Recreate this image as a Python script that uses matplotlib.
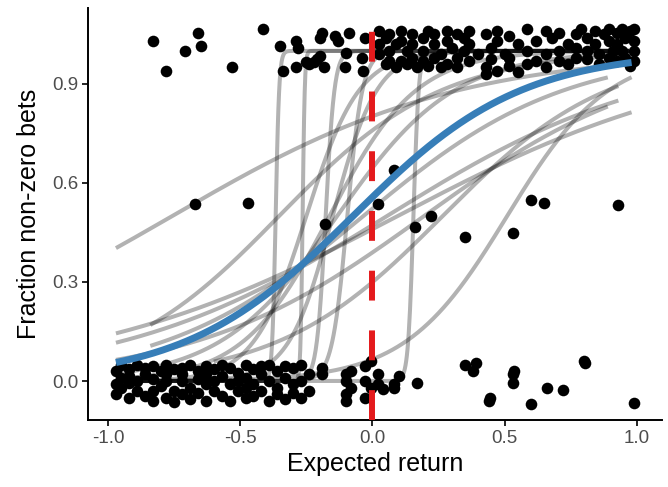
import numpy as np
import matplotlib
matplotlib.use("Agg")
import matplotlib.pyplot as plt

plt.rcParams['font.family'] = ['Liberation Sans', 'DejaVu Sans']

# jittered observations: (x, [y values]) columns
bottom_cols = [
    (-0.97, [0.03, -0.01, -0.04]), (-0.95, [0.05, -0.02, 0.01]),
    (-0.92, [0.035, -0.005, -0.05, 0.015]), (-0.89, [0.05, 0.0, -0.03]),
    (-0.86, [0.02, -0.045, 0.04]), (-0.83, [0.045, 0.005, -0.03, -0.06]),
    (-0.80, [0.03, -0.015]), (-0.78, [0.05, 0.0, -0.05, 0.02]),
    (-0.75, [-0.03, 0.035, -0.065]), (-0.72, [0.04, 0.0, -0.04, 0.02]),
    (-0.69, [0.05, -0.02, -0.055]), (-0.66, [0.03, 0.005, -0.035]),
    (-0.63, [0.045, -0.01, -0.06, 0.02]), (-0.60, [0.035, -0.03, 0.0]),
    (-0.57, [0.05, 0.015, -0.045]), (-0.54, [0.04, -0.01, -0.06]),
    (-0.51, [0.025, -0.03, 0.0]), (-0.48, [0.05, 0.01, -0.05, -0.02]),
    (-0.45, [0.035, -0.01, -0.045]), (-0.42, [0.02, -0.03, 0.045]),
    (-0.39, [0.05, 0.0, -0.06]), (-0.36, [0.03, -0.02, -0.04]),
    (-0.33, [0.045, 0.01, -0.055]), (-0.30, [0.04, -0.01, -0.035]),
    (-0.27, [0.05, 0.0, -0.05]), (-0.24, [-0.03, 0.02]),
    (-0.19, [0.04, 0.02]), (-0.10, [0.0, -0.04, -0.06, 0.02]),
    (-0.08, [0.03, -0.02]), (-0.03, [0.0, -0.05, 0.045]),
    (-0.005, [0.06, -0.02]), (0.02, [0.02, -0.01]), (0.04, [-0.025]),
    (0.08, [-0.01, -0.02]), (0.10, [0.015]), (0.17, [-0.005]),
]

top_cols = [
    (-0.35, [1.015]), (-0.34, [0.94]), (-0.29, [1.03, 0.95]), (-0.28, [1.01]),
    (-0.25, [0.965]), (-0.24, [0.96]), (-0.22, [0.965]), (-0.21, [0.975]),
    (-0.20, [1.04, 0.985]), (-0.19, [1.055]), (-0.185, [0.95]),
    (-0.14, [1.045]), (-0.13, [1.03]), (-0.105, [0.95]), (-0.10, [0.995]),
    (-0.09, [1.055]), (-0.04, [0.98]), (-0.035, [0.94]), (-0.03, [1.04]),
    (0.026, [1.06, 1.02, 0.99]), (0.05, [1.04, 0.96]),
    (0.064, [1.05, 1.0, 0.97]), (0.09, [1.02, 0.95]),
    (0.108, [1.06, 1.03, 0.97]), (0.13, [1.0, 0.96]),
    (0.151, [1.05, 1.02, 0.98]), (0.17, [0.95]),
    (0.19, [1.04, 1.0, 0.97]), (0.21, [1.06, 0.955]),
    (0.234, [1.05, 1.02, 0.98]), (0.26, [0.99, 0.95]),
    (0.283, [1.06, 1.03, 0.96]), (0.30, [1.01]),
    (0.32, [1.05, 0.98, 0.95]), (0.345, [1.04, 1.0]),
    (0.366, [1.06, 1.02, 0.97]), (0.40, [0.99]),
    (0.429, [1.05, 0.95, 0.93]), (0.45, [1.01, 0.975]),
    (0.472, [1.06, 1.03, 0.94]), (0.50, [0.99]),
    (0.517, [1.045, 0.98, 0.955]), (0.55, [1.02, 0.935]),
    (0.585, [1.065, 1.0, 0.96]), (0.62, [1.03, 0.97]),
    (0.655, [1.06, 0.99, 0.95]), (0.68, [1.04]),
    (0.706, [1.055, 1.0, 0.97]), (0.74, [1.02, 0.96]),
    (0.769, [1.05, 1.01, 0.98]), (0.79, [1.065]),
    (0.811, [1.04, 1.0, 0.975]), (0.84, [1.06, 1.02]),
    (0.856, [0.99, 0.96]), (0.875, [1.05]),
    (0.894, [1.065, 1.03, 0.98]), (0.91, [1.0]),
    (0.925, [1.055, 1.02, 0.97]), (0.945, [1.065, 1.0]),
    (0.957, [1.04, 0.98]), (0.975, [1.06, 0.955]),
    (0.989, [1.065, 1.03, 1.0, 0.97]),
]

other_x = [-0.83, -0.78, -0.71, -0.66, -0.65, -0.53, -0.415,
           -0.67, -0.47, -0.18, 0.02, 0.08, 0.16, 0.22, 0.35, 0.53, 0.60, 0.65, 0.93,
           0.35, 0.39, 0.38, 0.53, 0.535, 0.53, 0.44, 0.445, 0.60, 0.66, 0.72, 0.80, 0.805, 0.99]
other_y = [1.03, 0.94, 1.0, 1.055, 1.015, 0.95, 1.067,
           0.537, 0.54, 0.476, 0.536, 0.64, 0.467, 0.5, 0.436, 0.448, 0.548, 0.54, 0.533,
           0.05, 0.055, 0.03, 0.02, 0.03, -0.006, -0.06, -0.05, -0.07, -0.02, -0.027, 0.06, 0.055, -0.067]

# per-subject logistic fits: intercept, slope, x range
subj_a = [1.40, -0.16, -0.45, -0.11, -0.85, 0.09, -2.65, 1.15, 0.99,
          0.366 * 150, 0.264 * 250, 0.177 * 60, 0.095 * 35, -0.155 * 100,
          0.25 * 10, 0.15 * 12, 0.6]
subj_b = [1.85, 1.67, 2.3, 1.98, 3.2, 2.64, 5.2, 3.26, 6.1,
          150, 250, 60, 35, 100, 10, 12, 4.5]
subj_xmin = [-0.97, -0.97, -0.97, -0.97, -0.6, -0.84, -0.97, -0.84, -0.97,
             -0.97, -0.97, -0.97, -0.97, -0.97, -0.97, -0.97, -0.97]
subj_xmax = [0.97, 0.98, 0.89, 0.93, 0.93, 0.89, 0.98, 0.97, 0.97,
             0.97, 0.97, 0.97, 0.97, 0.97, 0.97, 0.97, 0.97]

# group-level fit
group_a, group_b = 0.23, 3.15

logistic = lambda x, a, b: 1 / (1 + np.exp(-(a + b * x)))

fig = plt.figure(figsize=(6.68, 4.87), dpi=100)
ax = fig.add_axes([0.132, 0.1376, 0.859, 0.846])

for a, b, lo, hi in zip(subj_a, subj_b, subj_xmin, subj_xmax):
    xs = np.linspace(lo, hi, 800)
    ax.plot(xs, logistic(xs, a, b), color='black', alpha=0.3, lw=2.9,
            solid_capstyle='butt', zorder=2)

bx = [x for x, ys in bottom_cols for _ in ys]
by = [y for _, ys in bottom_cols for y in ys]
tx = [x for x, ys in top_cols for _ in ys]
ty = [y for _, ys in top_cols for y in ys]
ax.scatter(bx + tx + other_x, by + ty + other_y, s=70, color='black',
           linewidths=0, zorder=3)

xs = np.linspace(-0.97, 0.98, 400)
ax.plot(xs, logistic(xs, group_a, group_b), color='#377EB8', lw=5,
        solid_capstyle='butt', zorder=4)

ax.axvline(0, color='#E41A1C', lw=4.3, dashes=(5, 5), zorder=5)

ax.set_xlim(-1.075, 1.095)
ax.set_ylim(-0.118, 1.13)
ax.set_xticks([-1.0, -0.5, 0.0, 0.5, 1.0])
ax.set_yticks([0.0, 0.3, 0.6, 0.9])
ax.set_xticklabels(['-1.0', '-0.5', '0.0', '0.5', '1.0'])
ax.set_yticklabels(['0.0', '0.3', '0.6', '0.9'])
for s in ['top', 'right']:
    ax.spines[s].set_visible(False)
for s in ['left', 'bottom']:
    ax.spines[s].set_linewidth(1.4)
ax.tick_params(length=4, width=1.2, labelsize=13.5, labelcolor='#4D4D4D', pad=3)
ax.set_xlabel('Expected return', fontsize=18, labelpad=4)
ax.set_ylabel('Fraction non-zero bets', fontsize=18, labelpad=8)

fig.savefig('out.png', dpi=100)
